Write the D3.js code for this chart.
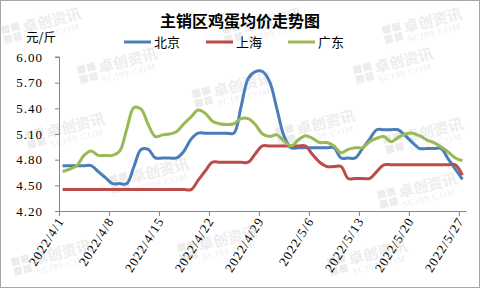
<!DOCTYPE html>
<html>
<head>
<meta charset="utf-8">
<script src="https://cdn.jsdelivr.net/npm/d3@7"></script>
<style>
body { margin: 0; background: #fff; }
svg { display: block; }
</style>
</head>
<body>
<svg id="chart" width="480" height="288"></svg>
<script>
// daily dates 2022/4/1 .. 2022/5/27
var startDate = new Date(2022, 3, 1);
var dates = d3.range(57).map(function(i){ return d3.timeDay.offset(startDate, i); });

var beijing = [4.73,4.73,4.73,4.73,4.73,4.66,4.59,4.52,4.52,4.52,
               4.72,4.92,4.92,4.82,4.82,4.82,4.82,4.90,5.04,5.11,
               5.11,5.11,5.11,5.11,5.11,5.42,5.75,5.83,5.83,5.71,
               5.40,5.08,4.94,4.94,4.94,4.94,4.94,4.94,4.94,4.82,
               4.82,4.82,4.93,5.04,5.15,5.15,5.15,5.15,5.08,5.00,
               4.93,4.93,4.93,4.93,4.81,4.69,4.57];
var shanghai = [4.45,4.45,4.45,4.45,4.45,4.45,4.45,4.45,4.45,4.45,
                4.45,4.45,4.45,4.45,4.45,4.45,4.45,4.45,4.45,4.56,
                4.67,4.77,4.77,4.77,4.77,4.77,4.77,4.87,4.96,4.96,
                4.96,4.96,4.96,4.96,4.96,4.86,4.77,4.72,4.72,4.72,
                4.58,4.58,4.58,4.58,4.66,4.74,4.74,4.74,4.74,4.74,
                4.74,4.74,4.74,4.74,4.74,4.74,4.62];
var guangdong = [4.66,4.69,4.73,4.85,4.90,4.85,4.85,4.85,4.90,5.16,
                 5.41,5.39,5.21,5.07,5.09,5.10,5.13,5.22,5.30,5.38,
                 5.34,5.25,5.22,5.21,5.22,5.28,5.28,5.21,5.10,5.07,
                 5.09,5.02,4.96,5.03,5.08,5.05,5.00,5.00,4.96,4.88,
                 4.92,4.94,4.94,5.01,5.05,5.07,5.01,5.06,5.10,5.11,
                 5.08,5.03,5.00,4.95,4.89,4.82,4.79];

var seriesNames = ["北京", "上海", "广东"];
var seriesColors = ["#4a7ebb", "#be4b48", "#98b954"];
var yTicks = [4.20, 4.50, 4.80, 5.10, 5.40, 5.70, 6.00];
var xTicks = dates.filter(function(d, i){ return i % 7 === 0; });

var svg = d3.select("#chart");
var plotL = 59, plotR = 466, plotT = 57, plotB = 211;

var x = d3.scaleTime().domain([startDate, d3.timeDay.offset(startDate, 57)]).range([plotL, plotR]);
var y = d3.scaleLinear().domain([4.2, 6.0]).range([plotB, plotT]);

svg.append("rect").attr("x", 0.5).attr("y", 0.5).attr("width", 479).attr("height", 287)
    .attr("fill", "#fff").attr("stroke", "#a6a6a6");

// watermarks (faint, behind everything)
var marks = [[4,40],[225,40],[385,40],[80,80],[195,104],[278,142],[28,145],[112,190],[356,80],[386,150],[380,205],[180,258],[330,272],[14,272]];
marks.forEach(function(m){
    var g = svg.append("g").attr("transform", "translate(" + m[0] + "," + m[1] + ") rotate(-14)")
        .attr("fill", "#ededed");
    g.append("rect").attr("x", 0).attr("y", -14).attr("width", 8).attr("height", 8);
    g.append("rect").attr("x", 10).attr("y", -14).attr("width", 8).attr("height", 8);
    g.append("rect").attr("x", 0).attr("y", -4).attr("width", 8).attr("height", 8);
    g.append("rect").attr("x", 10).attr("y", -4).attr("width", 8).attr("height", 8);
    g.append("text").attr("x", 21).attr("y", -2).attr("font-family", "Noto Sans CJK SC").attr("font-weight", "bold")
        .attr("font-size", 15).text("卓创资讯");
    g.append("text").attr("x", 22).attr("y", 8).attr("font-family", "Liberation Serif")
        .attr("font-size", 9).attr("letter-spacing", 1).text("SCI99.COM");
});

// axes
var yAxis = svg.append("g").attr("transform", "translate(" + plotL + ",0)")
    .call(d3.axisLeft(y).tickValues(yTicks).tickSize(4).tickPadding(12).tickFormat(d3.format(".2f")));
var xAxis = svg.append("g").attr("transform", "translate(0," + plotB + ")")
    .call(d3.axisBottom(x).tickValues(xTicks).tickSize(5).tickSizeOuter(0)
        .tickFormat(function(d){ return d3.timeFormat("%Y/%-m/%-d")(d); }));

[yAxis, xAxis].forEach(function(a){
    a.select(".domain").attr("stroke", "#868686");
    a.selectAll(".tick line").attr("stroke", "#868686");
    a.selectAll("text").attr("fill", "#000").attr("font-family", "Liberation Serif")
        .attr("font-size", 13).attr("letter-spacing", 1);
});
yAxis.selectAll("text").attr("x", -16);
yAxis.select(".domain").attr("d", "M0.5," + plotB + "V" + plotT + "H-4");
xAxis.selectAll("text").attr("text-anchor", "end").attr("dy", 0)
    .attr("transform", "translate(5,10) rotate(-58)").attr("x", 0).attr("y", 0);

// lines
var line = d3.line()
    .x(function(d){ return x(d3.timeHour.offset(d.date, 12)); })
    .y(function(d){ return y(d.value); })
    .curve(d3.curveCatmullRom.alpha(0.5));

[beijing, shanghai, guangdong].forEach(function(vals, k){
    var pts = vals.map(function(v, i){ return {date: dates[i], value: v}; });
    svg.append("path").datum(pts).attr("d", line).attr("fill", "none")
        .attr("stroke", seriesColors[k]).attr("stroke-width", 3).attr("stroke-linejoin", "round");
});

// title, unit, legend
svg.append("text").attr("x", 240).attr("y", 27).attr("text-anchor", "middle")
    .attr("font-family", "Noto Sans CJK SC").attr("font-weight", "bold").attr("font-size", 16)
    .text("主销区鸡蛋均价走势图");
svg.append("text").attr("x", 26).attr("y", 42).attr("font-family", "Noto Sans CJK SC")
    .attr("font-size", 12.5).text("元/斤");

var legendX = [124, 206, 288];
seriesNames.forEach(function(name, k){
    svg.append("line").attr("x1", legendX[k]).attr("x2", legendX[k] + 27).attr("y1", 42).attr("y2", 42)
        .attr("stroke", seriesColors[k]).attr("stroke-width", 3);
    svg.append("text").attr("x", legendX[k] + 30).attr("y", 47).attr("font-family", "Noto Sans CJK SC")
        .attr("font-size", 13).text(name);
});
</script>
</body>
</html>
